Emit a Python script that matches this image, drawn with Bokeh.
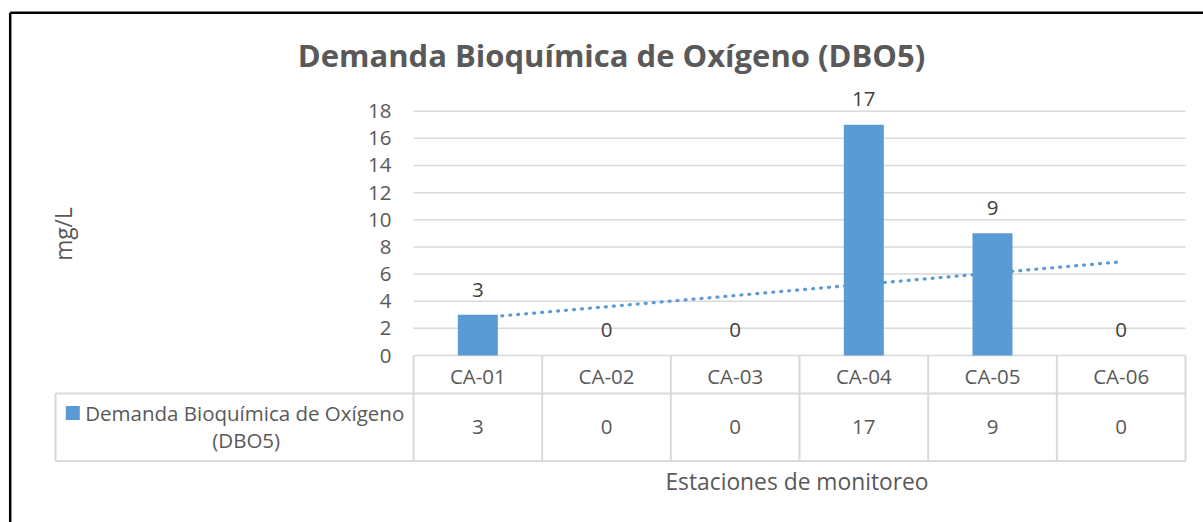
import numpy as np
from bokeh.plotting import figure
from bokeh.models import Range1d, LinearAxis, FixedTicker
from bokeh.core.properties import value
from bokeh.embed import file_html
from bokeh.resources import INLINE

# ---------------- data ----------------
chart_title = "Demanda Bioquímica de Oxígeno (DBO5)"
categories = ["CA-01", "CA-02", "CA-03", "CA-04", "CA-05", "CA-06"]
dbo5 = [3, 0, 0, 17, 9, 0]
y_ticks = [0, 2, 4, 6, 8, 10, 12, 14, 16, 18]
series_name = "Demanda Bioquímica de Oxígeno (DBO5)"
y_title = "mg/L"
x_title = "Estaciones de monitoreo"

# ---------------- layout (page pixels) ----------------
FONT = "Open Sans"
BAR = "#5B9BD5"
TXT = "#595959"
LBL = "#404040"
GRID = "#D9D9D9"

PAGE_OFF = 0
FIG_W, FIG_H = 1203, 522
X0_PX, X6_PX = 413.0, 1185.0          # plot area left / right
Y0_PX, Y18_PX = 355.0, 110.7          # value 0 / value 18
CW = (X6_PX - X0_PX) / len(categories)
U = (Y0_PX - Y18_PX) / 18.0
FS = 20.5          # base font size (px)
FS_AX = 22.8       # axis-title font size
FS_T = 31.0        # chart title font size
BL = 0.355         # baseline correction (fraction of font size)


def X(px):
    return (px - X0_PX) / CW


def Y(py):
    return (Y0_PX - py) / U


def off(fs):
    return -BL * fs


p = figure(width=FIG_W, height=FIG_H, output_backend="svg", toolbar_location=None,
           x_axis_type=None, y_axis_type=None,
           x_range=Range1d(X(PAGE_OFF), X(PAGE_OFF + FIG_W)),
           y_range=Range1d(Y(PAGE_OFF + FIG_H), Y(PAGE_OFF)),
           min_border=0, min_border_left=0, min_border_right=0,
           min_border_top=0, min_border_bottom=0)
p.outline_line_color = None
p.background_fill_color = "white"
p.border_fill_color = "white"

n = len(categories)
xc = [i + 0.5 for i in range(n)]

# gridlines (only across the plot area)
p.segment(x0=[0] * len(y_ticks), x1=[n] * len(y_ticks), y0=y_ticks, y1=y_ticks,
          line_color=GRID, line_width=1.5)

# data table lines
row1 = Y(393.0)
row2 = Y(460.5)
leg_left = X(55.0)
p.segment(x0=[leg_left, leg_left], x1=[n, n], y0=[row1, row2], y1=[row1, row2],
          line_color=GRID, line_width=2)
p.segment(x0=list(range(n + 1)), x1=list(range(n + 1)),
          y0=[0] * (n + 1), y1=[row2] * (n + 1), line_color=GRID, line_width=2)
p.segment(x0=[leg_left], x1=[leg_left], y0=[row1], y1=[row2], line_color=GRID, line_width=2)

# linear trendline
idx = np.arange(1, n + 1)
slope, icpt = np.polyfit(idx, np.array(dbo5, dtype=float), 1)
p.line(x=[xc[0], xc[-1]], y=[slope * idx[0] + icpt, slope * idx[-1] + icpt],
       line_color=BAR, line_width=3.2, line_dash="1 7", line_cap="round")

# bars
p.vbar(x=xc, top=dbo5, bottom=0, width=40.0 / CW, fill_color=BAR, line_color=None)

# data labels
p.text(x=xc, y=dbo5, text=[str(v) for v in dbo5], y_offset=-18 + off(FS),
       text_font=value(FONT), text_font_size=f"{FS}px", text_color=LBL,
       text_align="center", text_baseline="alphabetic")

# y axis
yaxis = LinearAxis(fixed_location=0, ticker=FixedTicker(ticks=y_ticks),
                   axis_line_color=None, major_tick_line_color=None,
                   minor_tick_line_color=None, major_tick_out=0, major_tick_in=0,
                   minor_tick_out=0, minor_tick_in=0,
                   major_label_standoff=22, major_label_text_font=FONT,
                   major_label_text_font_size=f"{FS}px", major_label_text_color=TXT)
p.add_layout(yaxis, "left")

# table header (categories) and values
p.text(x=xc, y=[Y(382.7)] * n, text=categories, y_offset=off(FS), text_font=value(FONT),
       text_font_size=f"{FS}px", text_color=TXT, text_align="center",
       text_baseline="alphabetic")
p.text(x=xc, y=[Y(434.0)] * n, text=[str(v) for v in dbo5], y_offset=off(FS),
       text_font=value(FONT), text_font_size=f"{FS}px", text_color=TXT,
       text_align="center", text_baseline="alphabetic")

# legend cell
line1, line2 = series_name.rsplit(" ", 1)
p.scatter(x=[X(72.3)], y=[Y(412.5)], marker="square", size=14,
          fill_color=BAR, line_color=None)
p.text(x=[X(244.2), X(245.7)], y=[Y(419.3), Y(446.7)], text=[line1, line2],
       y_offset=off(FS), text_font=value(FONT), text_font_size=f"{FS}px",
       text_color=TXT, text_align="center", text_baseline="alphabetic")

# axis titles
p.text(x=[X(62.5)], y=[Y(233.5)], text=[y_title], angle=np.pi / 2,
       text_font=value(FONT), text_font_size=f"{FS_AX}px", text_color=TXT,
       text_align="center", text_baseline="middle")
p.text(x=[X(796.5)], y=[Y(489.0)], text=[x_title], y_offset=off(FS_AX),
       text_font=value(FONT), text_font_size=f"{FS_AX}px", text_color=TXT,
       text_align="center", text_baseline="alphabetic")

# chart title
p.text(x=[X(611.0)], y=[Y(66.0)], text=[chart_title], y_offset=off(FS_T),
       text_font=value(FONT), text_font_size=f"{FS_T}px", text_font_style="bold",
       text_color=TXT, text_align="center", text_baseline="alphabetic")

# outer chart border (left and top edges; right/bottom lie outside the view)
p.segment(x0=[X(9.7), X(9.7)], x1=[X(9.7), X(1400)], y0=[Y(12.2), Y(12.2)],
          y1=[Y(800), Y(12.2)], line_color="black", line_width=2.5)

open("out.html", "w").write(file_html(p, INLINE))
